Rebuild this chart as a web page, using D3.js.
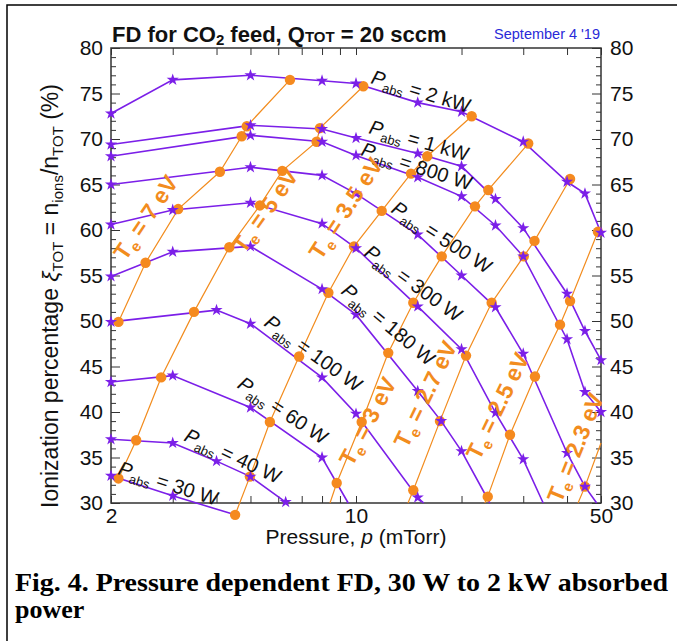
<!DOCTYPE html>
<html>
<head>
<meta charset="utf-8">
<script src="https://cdn.jsdelivr.net/npm/d3@7"></script>
<style>
body { margin: 0; background: #fff; }
svg { display: block; font-family: "Liberation Sans", Arial, sans-serif; }
</style>
</head>
<body>
<svg width="677" height="641"></svg>
<script>
// pressure axis (mTorr, log) and ionization axis (%)
var pressureTicks = [2, 3, 4, 5, 6, 7, 8, 9, 10, 20, 30, 40, 50];
var pressureLabels = [2, 10, 50];
var ionTicks = [30, 35, 40, 45, 50, 55, 60, 65, 70, 75, 80];
var ionMinor = [31,32,33,34,36,37,38,39,41,42,43,44,46,47,48,49,51,52,53,54,56,57,58,59,
	61,62,63,64,66,67,68,69,71,72,73,74,76,77,78,79];

// absorbed power curves: [pressure, ionization %]
var pabsNames = ["2 kW", "1 kW", "800 W", "500 W", "300 W", "180 W", "100 W", "60 W", "40 W", "30 W"];
var p2kW = [[2,72.8],[3,76.5],[5,77.0],[8,76.4],[10,76.1],[15,74.0],[20,73.0],[30,69.7],[40,65.3],[45,64.0],[50,59.7]];
var p1kW = [[2,69.4],[5,71.5],[8,71.1],[10,70.1],[15,68.4],[20,67.0],[25,63.4],[30,60.2],[40,53.0],[45,48.9],[50,45.7]];
var p800W = [[2,68.1],[5,70.4],[8,69.7],[10,68.2],[15,65.8],[20,63.7],[25,60.5],[30,57.1],[40,48.0],[45,42.2],[50,40.0]];
var p500W = [[2,65.0],[5,66.9],[8,66.0],[10,64.0],[15,59.5],[20,55.0],[25,51.5],[30,46.4],[40,35.5],[45,31.8],[48.6,30]];
var p300W = [[2,60.6],[3,62.2],[5,63.0],[8,60.7],[10,58.0],[15,51.6],[20,46.9],[25,39.9],[30,34.8],[34.2,30]];
var p180W = [[2,54.9],[3,57.6],[5,58.2],[8,53.5],[10,50.7],[15,42.3],[17.5,39.0],[20,35.7],[24.1,30]];
var p100W = [[2,49.9],[4,51.2],[5,49.7],[8,43.8],[10,39.8],[15,30.6],[15.6,30]];
var p60W = [[2,43.3],[3,44.0],[5,40.5],[8,35.0],[9.5,30]];
var p40W = [[2,37.0],[3,36.6],[4,34.6],[5,32.9],[6.3,30.1]];
var p30W = [[2,33.0],[3,30.8],[4.52,28.7]];
var pabsSeries = [p2kW, p1kW, p800W, p500W, p300W, p180W, p100W, p60W, p40W, p30W];

// electron temperature curves: [pressure, ionization %, marker(0 = none)]
var teNames = ["7", "5", "3.5", "3", "2.7", "2.5", "2.3"];
var te7 = [[2.1,49.9],[2.51,56.4],[3.11,62.3],[4.09,66.4],[4.72,70.3],[4.88,71.4],[6.48,76.5]];
var te5 = [[2.1,32.7],[2.36,36.9],[2.78,43.8],[3.45,51.0],[4.35,58.1],[5.32,62.7],[6.16,66.5],[7.72,69.7],[7.89,71.2],[10.49,75.8]];
var te35 = [[4.52,28.7],[4.98,32.9],[5.68,38.9],[6.88,46.1],[8.34,53.1],[9.87,58.2],[11.84,62.1],[14.35,66.2],[15.97,68.1],[21.38,72.5]];
var te3 = [[8.43,30,0],[8.81,32.2],[10.38,38.9],[12.36,46.5],[14.57,52.0],[17.56,57.1],[21.85,62.6],[23.85,64.4],[31.0,69.5]];
var te27 = [[14.07,30,0],[14.57,31.4],[17.36,39.0],[20.6,46.2],[24.38,52.0],[30.1,57.1],[32.3,58.8],[40.8,65.6]];
var te25 = [[23.3,30,0],[23.76,30.7],[27.5,37.5],[32.4,43.9],[38.2,49.6],[40.8,52.2],[49.0,59.8]];
var te23 = [[43.0,30,0],[45,31.8],[50,36.6,0]];
var teSeries = [te7, te5, te35, te3, te27, te25, te23];

// where the curve labels sit: [pressure, ionization %, angle]
var pabsLabelAt = [[10.96,76.15,17],[10.82,70.66,16],[10.27,68.24,18],[12.5,62.0,33],[10.47,57.25,36],
	[9.0,53.1,40],[5.43,49.56,36],[4.55,42.75,34],[3.21,36.9,25],[2.08,33.2,18]];
var teLabelAt = [[2.2,56.5,-56],[4.8,57.3,-55],[7.95,56.6,-57],[9.75,33.9,-62],[14.0,35.9,-64],[22.5,34.6,-64],[38.5,29.9,-68]];

var purple = "#7b1fe8";
var orange = "#f28c1e";

var svg = d3.select("svg");
var plotL = 111, plotR = 601, plotT = 48, plotB = 503;

var x = d3.scaleLog().domain([2, 50]).range([plotL, plotR]);
var y = d3.scaleLinear().domain([30, 80]).range([plotB, plotT]);

// page frame
svg.append("rect")
	.attr("x", 7).attr("y", 5).attr("width", 700).attr("height", 700)
	.attr("fill", "none").attr("stroke", "#000").attr("stroke-width", 1.5);

// axes
function styleAxis(g) {
	g.select(".domain").remove();
	g.selectAll("line").attr("stroke", "#333");
	g.selectAll("text").attr("font-size", 21).attr("fill", "#111")
		.attr("font-family", "'Liberation Sans', Arial, sans-serif");
}

svg.append("g").attr("transform", "translate(" + plotL + ",0)")
	.call(d3.axisLeft(y).tickValues(ionTicks).tickSize(-9).tickSizeOuter(0).tickPadding(8))
	.call(styleAxis);
svg.append("g").attr("transform", "translate(" + plotL + ",0)")
	.call(d3.axisLeft(y).tickValues(ionMinor).tickSize(-5).tickSizeOuter(0).tickFormat(""))
	.call(styleAxis);
svg.append("g").attr("transform", "translate(" + plotR + ",0)")
	.call(d3.axisRight(y).tickValues(ionTicks).tickSize(-9).tickSizeOuter(0).tickPadding(9))
	.call(styleAxis);
svg.append("g").attr("transform", "translate(" + plotR + ",0)")
	.call(d3.axisRight(y).tickValues(ionMinor).tickSize(-5).tickSizeOuter(0).tickFormat(""))
	.call(styleAxis);
svg.append("g").attr("transform", "translate(0," + plotB + ")")
	.call(d3.axisBottom(x).tickValues(pressureTicks).tickSize(-7).tickSizeOuter(0).tickPadding(5)
		.tickFormat(function(d) { return pressureLabels.indexOf(d) >= 0 ? d : ""; }))
	.call(styleAxis);
svg.append("g").attr("transform", "translate(0," + plotT + ")")
	.call(d3.axisTop(x).tickValues(pressureTicks).tickSize(-7).tickSizeOuter(0).tickFormat(""))
	.call(styleAxis);

svg.append("rect")
	.attr("x", plotL).attr("y", plotT).attr("width", plotR - plotL).attr("height", plotB - plotT)
	.attr("fill", "none").attr("stroke", "#333").attr("stroke-width", 1.5);

// curves
var line = d3.line()
	.x(function(d) { return x(d[0]); })
	.y(function(d) { return y(d[1]); });

svg.append("g").selectAll("path").data(teSeries).enter().append("path")
	.attr("d", line).attr("fill", "none").attr("stroke", orange).attr("stroke-width", 1.2);

svg.append("g").selectAll("path").data(pabsSeries).enter().append("path")
	.attr("d", line).attr("fill", "none").attr("stroke", purple).attr("stroke-width", 1.6);

var circlePts = [];
teSeries.forEach(function(s) {
	s.forEach(function(d) { if (d[2] !== 0) circlePts.push(d); });
});
svg.append("g").selectAll("circle").data(circlePts).enter().append("circle")
	.attr("cx", function(d) { return x(d[0]); })
	.attr("cy", function(d) { return y(d[1]); })
	.attr("r", 5.2).attr("fill", "#f58a1f");

var starPts = [];
pabsSeries.forEach(function(s) {
	s.forEach(function(d) { if (d[1] > 30) starPts.push(d); });
});
var star = d3.symbol().type(d3.symbolStar).size(46);
svg.append("g").selectAll("path").data(starPts).enter().append("path")
	.attr("d", star)
	.attr("transform", function(d) { return "translate(" + x(d[0]) + "," + y(d[1]) + ")"; })
	.attr("fill", purple);

// curve labels
pabsNames.forEach(function(name, i) {
	var at = pabsLabelAt[i];
	var t = svg.append("text")
		.attr("transform", "translate(" + x(at[0]) + "," + y(at[1]) + ") rotate(" + at[2] + ")")
		.attr("font-size", 20).attr("fill", "#111");
	t.append("tspan").attr("font-style", "italic").text("P");
	t.append("tspan").attr("font-size", 13).attr("dy", 5).text("abs");
	t.append("tspan").attr("dy", -5).text(" = " + name);
});

teNames.forEach(function(name, i) {
	var at = teLabelAt[i];
	var t = svg.append("text")
		.attr("transform", "translate(" + x(at[0]) + "," + y(at[1]) + ") rotate(" + at[2] + ")")
		.attr("font-size", 23).attr("font-weight", "bold").attr("fill", orange);
	t.append("tspan").text("T");
	t.append("tspan").attr("font-size", 15).attr("dy", 5).text("e");
	t.append("tspan").attr("dy", -5).text(" = " + name + " eV");
});

// titles
var title = svg.append("text").attr("x", 112).attr("y", 42)
	.attr("font-size", 22).attr("font-weight", "bold").attr("fill", "#111");
title.append("tspan").text("FD for CO");
title.append("tspan").attr("font-size", 15).attr("dy", 3).text("2");
title.append("tspan").attr("dy", -3).text(" feed, Q");
title.append("tspan").attr("font-size", 15).text("TOT");
title.append("tspan").text(" = 20 sccm");

svg.append("text").attr("x", 600).attr("y", 39).attr("text-anchor", "end")
	.attr("font-size", 14.5).attr("fill", "#2a2ad8").text("September 4 '19");

var xl = svg.append("text").attr("x", 356).attr("y", 544).attr("text-anchor", "middle")
	.attr("font-size", 21).attr("fill", "#111");
xl.append("tspan").text("Pressure, ");
xl.append("tspan").attr("font-style", "italic").text("p");
xl.append("tspan").text(" (mTorr)");

var yl = svg.append("text").attr("transform", "translate(58,296) rotate(-90)")
	.attr("text-anchor", "middle").attr("font-size", 23).attr("fill", "#111");
yl.append("tspan").text("Ionization percentage ");
yl.append("tspan").attr("font-style", "italic").text("ξ");
yl.append("tspan").attr("font-size", 15).attr("dy", 5).text("TOT");
yl.append("tspan").attr("dy", -5).text(" = n");
yl.append("tspan").attr("font-size", 15).attr("dy", 5).text("ions");
yl.append("tspan").attr("dy", -5).text("/n");
yl.append("tspan").attr("font-size", 15).attr("dy", 5).text("TOT");
yl.append("tspan").attr("dy", -5).text(" (%)");

// caption
svg.append("text").attr("x", 15).attr("y", 591)
	.attr("font-family", "'Liberation Serif', 'Times New Roman', serif")
	.attr("font-size", 26).attr("font-weight", "bold").attr("fill", "#000")
	.attr("textLength", 653).attr("lengthAdjust", "spacingAndGlyphs")
	.text("Fig. 4. Pressure dependent FD, 30 W to 2 kW absorbed");
svg.append("text").attr("x", 15).attr("y", 618)
	.attr("font-family", "'Liberation Serif', 'Times New Roman', serif")
	.attr("font-size", 26).attr("font-weight", "bold").attr("fill", "#000")
	.text("power");
</script>
</body>
</html>
